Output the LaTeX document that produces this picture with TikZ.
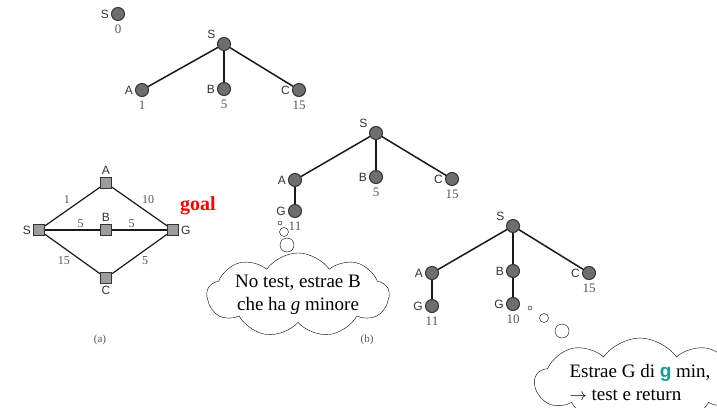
\documentclass[tikz,border=0pt]{standalone}
\usepackage{fontspec}
\setmainfont{Liberation Serif}
\setsansfont{Liberation Sans}
\usetikzlibrary{shapes.symbols}
\definecolor{nodegray}{HTML}{6E6E6E}
\definecolor{boxgray}{HTML}{9C9C9C}
\definecolor{numgray}{HTML}{555555}
\definecolor{gteal}{HTML}{179C9C}

\begin{document}
\begin{tikzpicture}%
	[x={(1pt,0pt)},
	y={(0pt,-1pt)},
	vertex/.style={circle,inner sep=0pt,minimum size=13pt,draw=black!80,fill=nodegray,line width=1pt},
	sqvertex/.style={rectangle,inner sep=0pt,minimum size=11pt,draw=black!80,fill=boxgray,line width=0.9pt},
	edge/.style={black!90,line width=1.5pt},
	gedge/.style={black!90,line width=1.2pt},
	lab/.style={font=\sffamily\fontsize{12}{12}\selectfont,text=black!80,inner sep=2pt},
	num/.style={font=\fontsize{13}{13}\selectfont,text=numgray,inner sep=2pt,label distance=2pt},
	cost/.style={font=\fontsize{12}{12}\selectfont,text=numgray,inner sep=2pt},
	thought/.style={cloud,cloud puffs=9,cloud puff arc=110,cloud ignores aspect,draw=black,thin,fill=white,
		font=\fontsize{19}{23}\selectfont,inner sep=0pt},
	bubble/.style={draw=black,thin,fill=white},
	caption/.style={font=\fontsize{11}{11}\selectfont,text=numgray}]
\useasboundingbox (0,0) rectangle (717,407);
%
%% Step 0: only the root
\node[vertex,label={[lab]left:S},label={[num]below:0}] (s0) at (118,14) {};
%
%% Step 1: expand S
\node[vertex,label={[lab]155:S}] (s1) at (224,44) {};
\node[vertex,label={[lab]left:A},label={[num]below:1}] (a1) at (142,90) {};
\node[vertex,label={[lab]left:B},label={[num]below:5}] (b1) at (224,89) {};
\node[vertex,label={[lab]left:C},label={[num]below:15}] (c1) at (299,90) {};
\draw[edge] (s1) -- (a1);
\draw[edge] (s1) -- (b1);
\draw[edge] (s1) -- (c1);
%
%% Step 2: expand A
\node[vertex,label={[lab]155:S}] (s2) at (376,133) {};
\node[vertex,label={[lab]left:A}] (a2) at (295,180) {};
\node[vertex,label={[lab]left:B},label={[num]below:5}] (b2) at (376,177) {};
\node[vertex,label={[lab]left:C},label={[num]below:15}] (c2) at (452,179) {};
\node[vertex,label={[lab]left:G},label={[num]below:11}] (g2) at (295,211) {};
\draw[edge] (s2) -- (a2);
\draw[edge] (s2) -- (b2);
\draw[edge] (s2) -- (c2);
\draw[edge] (a2) -- (g2);
%
%% Step 3: expand B
\node[vertex,label={[lab]155:S}] (s3) at (513,226) {};
\node[vertex,label={[lab]left:A}] (a3) at (432,273) {};
\node[vertex,label={[lab]left:B}] (b3) at (513,271) {};
\node[vertex,label={[lab]left:C},label={[num]below:15}] (c3) at (589,273) {};
\node[vertex,label={[lab]left:G},label={[num]below:11}] (ga3) at (432,306) {};
\node[vertex,label={[lab]left:G},label={[num]below:10}] (gb3) at (513,304) {};
\draw[edge] (s3) -- (a3);
\draw[edge] (s3) -- (b3);
\draw[edge] (s3) -- (c3);
\draw[edge] (a3) -- (ga3);
\draw[edge] (b3) -- (gb3);
%
%% The graph (a)
\node[sqvertex,label={[lab]above:A}] (ga) at (106,183) {};
\node[sqvertex,label={[lab]left:S}] (gs) at (39,230) {};
\node[sqvertex,label={[lab]above:B}] (gb) at (106,230) {};
\node[sqvertex,label={[lab]right:G}] (gg) at (173,230) {};
\node[sqvertex,label={[lab]below:C}] (gc) at (106,278) {};
\draw[gedge] (gs) -- node[cost,above left] {1} (ga);
\draw[gedge] (ga) -- node[cost,above right] {10} (gg);
\draw[gedge] (gs) -- node[cost,above,xshift=8pt] {5} (gb);
\draw[gedge] (gb) -- node[cost,above,xshift=-8pt] {5} (gg);
\draw[gedge] (gs) -- node[cost,below left] {15} (gc);
\draw[gedge] (gc) -- node[cost,below right] {5} (gg);
\node[font=\bfseries\fontsize{20}{20}\selectfont,text=red] (goal) at (198,206) {goal};
\node[caption] (capa) at (100,340) {(a)};
\node[caption] (capb) at (367,340) {(b)};
%
%% Thoughts
\draw[bubble] (280,223) circle (2);
\draw[bubble] (284,232) circle (4.5);
\draw[bubble] (287,245) circle (7);
\node[thought,minimum width=182pt,minimum height=76pt,align=center] (think1) at (298,295)
	{No test, estrae B\\che ha \textit{g} minore};
\draw[bubble] (530,308) circle (2);
\draw[bubble] (544,318) circle (4.5);
\draw[bubble] (562,331) circle (7);
\node[thought,minimum width=210pt,minimum height=88pt,align=left] (think2) at (640,382)
	{Estrae G di {\sffamily\bfseries\color{gteal}g} min,\\$\rightarrow$ test e return};
\end{tikzpicture}
\end{document}
